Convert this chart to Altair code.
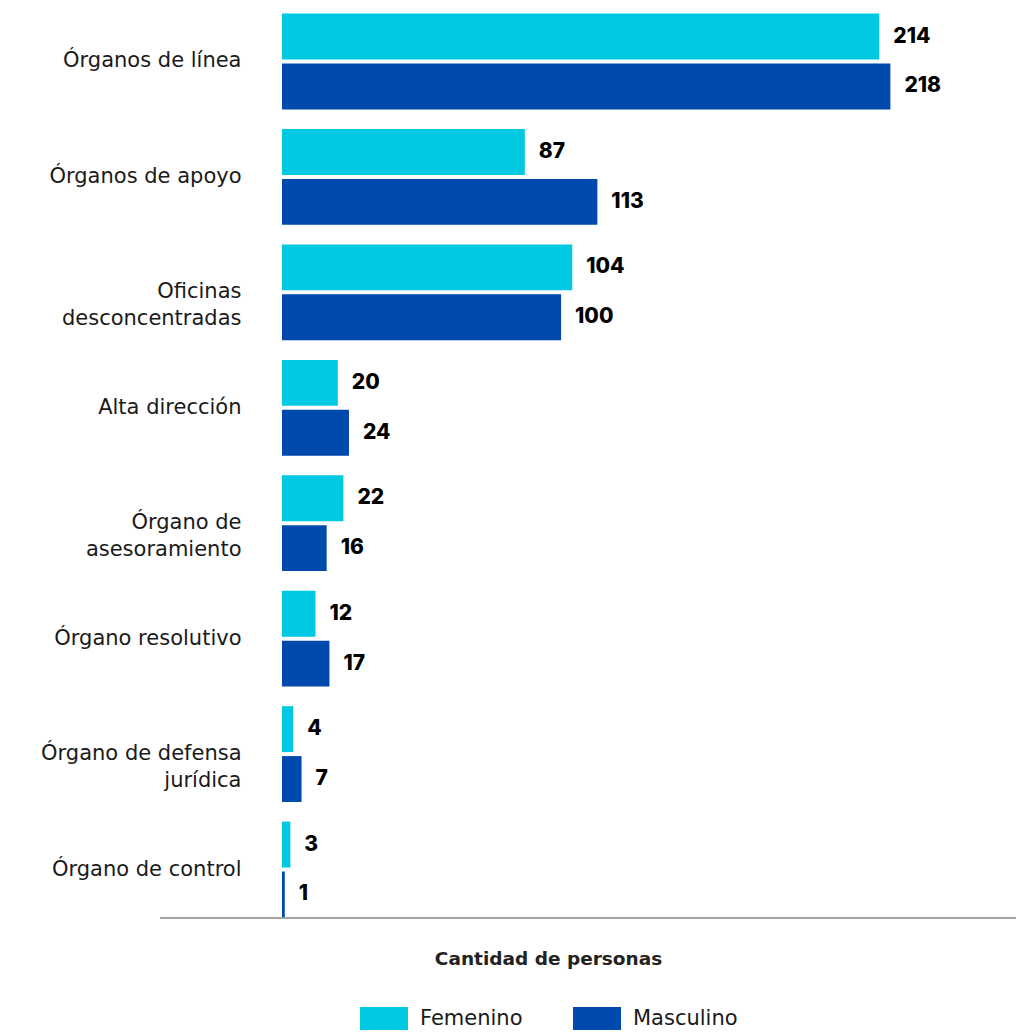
import altair as alt
import pandas as pd

categories = [
    "Órganos de línea",
    "Órganos de apoyo",
    "Oficinas desconcentradas",
    "Alta dirección",
    "Órgano de asesoramiento",
    "Órgano resolutivo",
    "Órgano de defensa jurídica",
    "Órgano de control",
]
femenino = [214, 87, 104, 20, 22, 12, 4, 3]
masculino = [218, 113, 100, 24, 16, 17, 7, 1]
genders = ["Femenino", "Masculino"]
colors = ["#00C9E1", "#0049AD"]

line_breaks = {
    "Oficinas desconcentradas": ["Oficinas", "desconcentradas"],
    "Órgano de asesoramiento": ["Órgano de", "asesoramiento"],
    "Órgano de defensa jurídica": ["Órgano de defensa", "jurídica"],
}

rows = []
for c, f, m in zip(categories, femenino, masculino):
    rows.append({"categoria": c, "genero": "Femenino", "valor": f})
    rows.append({"categoria": c, "genero": "Masculino", "valor": m})
df = pd.DataFrame(rows)

label_expr = ""
for k, v in line_breaks.items():
    arr = "[" + ",".join("'" + s + "'" for s in v) + "]"
    label_expr += f"datum.label == '{k}' ? {arr} : "
label_expr += "datum.label"

FONT = "DejaVu Sans"
NUMFONT = "Inter"
W, H = 734, 905

y_enc = alt.Y(
    "categoria:N",
    sort=categories,
    scale=alt.Scale(paddingInner=0.17, paddingOuter=0.005),
    axis=alt.Axis(
        title=None, domain=False, ticks=False, labelPadding=41,
        labelFontSize=21, labelFont=FONT, labelColor="#1a1a1a",
        labelLineHeight=27, labelLimit=0, labelExpr=label_expr,
    ),
)
yoff = alt.YOffset("genero:N", sort=genders, scale=alt.Scale(paddingInner=0.08, paddingOuter=0))
x_enc = alt.X(
    "valor:Q",
    scale=alt.Scale(domain=[0, 263], nice=False),
    axis=alt.Axis(
        title="Cantidad de personas", labels=False, ticks=False, domain=False, grid=False,
        titleFontSize=18.5, titleFont=FONT, titleFontWeight="bold", titleColor="#222222",
        titleX=266, titleY=40, titleBaseline="middle", titleAlign="center",
    ),
)

bars = alt.Chart(df).mark_bar().encode(
    x=x_enc,
    y=y_enc,
    yOffset=yoff,
    color=alt.Color(
        "genero:N",
        scale=alt.Scale(domain=genders, range=colors),
        legend=alt.Legend(
            title=None, orient="none", direction="horizontal",
            legendX=90, legendY=994,
            symbolType="M-2,-1H2V1H-2Z", symbolSize=576, symbolStrokeWidth=0,
            symbolOpacity=1, labelFontSize=21, labelFont=FONT, labelColor="#1a1a1a",
            labelOffset=24, columnPadding=50,
        ),
    ),
)

texts = alt.Chart(df).mark_text(
    align="left", baseline="middle", dx=14, font=NUMFONT, fontSize=21,
    fontWeight=800, color="#000000",
).encode(
    x="valor:Q",
    y=alt.Y("categoria:N", sort=categories),
    yOffset=alt.YOffset("genero:N", sort=genders),
    text="valor:Q",
)

axis_line = alt.Chart(pd.DataFrame({"v": [0]})).mark_rule(color="#888888", strokeWidth=1.5).encode(
    x=alt.value(-122), x2=alt.value(742), y=alt.value(H)
)

chart = alt.layer(bars, texts, axis_line).properties(
    width=W, height=H,
    autosize=alt.AutoSizeParams(type="none"),
    padding={"left": 274, "top": 5, "right": 0, "bottom": 112},
).configure_view(stroke=None)

chart.save("out.html", embed_options={"renderer": "svg", "actions": False})
